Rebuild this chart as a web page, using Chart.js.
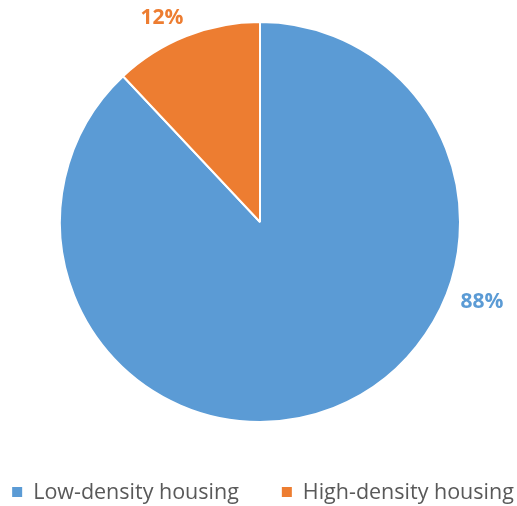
<!DOCTYPE html>
<html>
<head>
<meta charset="utf-8">
<script src="https://cdn.jsdelivr.net/npm/chart.js@4/dist/chart.umd.min.js"></script>
<style>
  html, body { margin: 0; padding: 0; background: #fff; }
  #wrap { width: 517px; height: 506px; }
</style>
</head>
<body>
<div id="wrap"><canvas id="housingPie"></canvas></div>
<script>
// housing mix pie
const categories = ['Low-density housing', 'High-density housing'];
const shares     = [88, 12];
const colors     = ['#5B9BD5', '#ED7D31'];

const FONT = "'Open Sans', sans-serif";

// percentage labels sit outside the pie: angle (deg, clockwise from top) and distance past the rim
const pctLabels = {
    id: 'pctLabels',
    afterDatasetsDraw(chart, args, opts) {
        const meta = chart.getDatasetMeta(0);
        const ctx = chart.ctx;
        const total = shares.reduce((a, b) => a + b, 0);
        ctx.save();
        ctx.font = 'bold 21px ' + FONT;
        ctx.textAlign = 'center';
        ctx.textBaseline = 'middle';
        meta.data.forEach((arc, i) => {
            const a = opts.angles[i] * Math.PI / 180;
            const r = arc.outerRadius + opts.offsets[i];
            ctx.fillStyle = colors[i];
            ctx.fillText(Math.round(shares[i] / total * 100) + '%',
                         arc.x + Math.sin(a) * r, arc.y - Math.cos(a) * r);
        });
        ctx.restore();
    }
};

// one-row legend under the pie, spread wider than the built-in one allows
const bottomLegend = {
    id: 'bottomLegend',
    afterDraw(chart, args, opts) {
        const ctx = chart.ctx;
        const items = chart.legend.legendItems;
        ctx.save();
        ctx.font = opts.size + 'px ' + FONT;
        ctx.textBaseline = 'middle';
        const widths = items.map(it => opts.box + opts.gap + ctx.measureText(it.text).width);
        const total = widths.reduce((a, b) => a + b, 0) + opts.spacing * (items.length - 1);
        let x = opts.centerX - total / 2;
        items.forEach((it, i) => {
            ctx.fillStyle = it.fillStyle;
            ctx.fillRect(x, opts.y - opts.box / 2, opts.box, opts.box);
            ctx.fillStyle = opts.color;
            ctx.fillText(it.text, x + opts.box + opts.gap, opts.y + 1);
            x += widths[i] + opts.spacing;
        });
        ctx.restore();
    }
};

new Chart(document.getElementById('housingPie'), {
    type: 'pie',
    data: {
        labels: categories,
        datasets: [{
            data: shares,
            backgroundColor: colors,
            borderColor: '#ffffff',
            borderWidth: 2,
            radius: 200,
        }]
    },
    options: {
        responsive: true,
        maintainAspectRatio: false,
        animation: false,
        layout: { padding: { top: 22, bottom: 84, left: 3, right: 0 } },
        plugins: {
            legend: { display: false },
            tooltip: { enabled: false },
            pctLabels: {
                angles: [109.8, 334.3],
                offsets: [36, 26]
            },
            bottomLegend: {
                centerX: 263, y: 492, size: 21.5,
                box: 10, gap: 11, spacing: 43,
                color: '#595959'
            }
        }
    },
    plugins: [pctLabels, bottomLegend]
});
</script>
</body>
</html>
